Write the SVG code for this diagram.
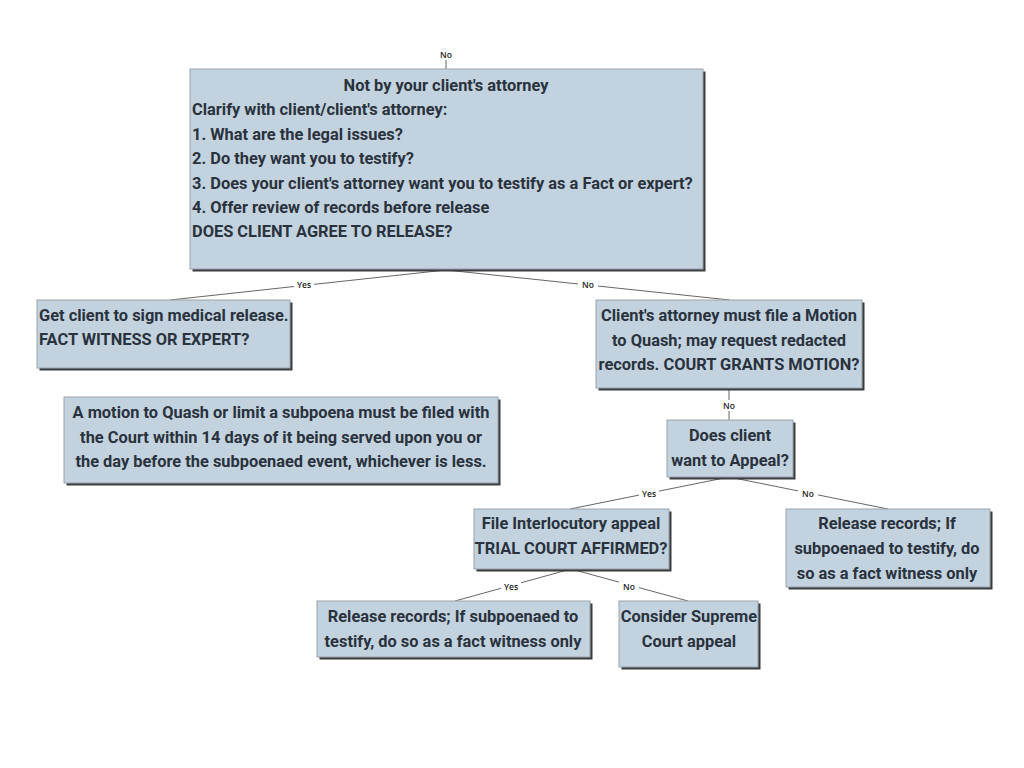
<svg xmlns="http://www.w3.org/2000/svg" width="1024" height="768" viewBox="0 0 1024 768">
<defs>
<style>
.box{fill:#c3d2df;stroke:#9aa3ab;stroke-width:1}
.shd{fill:#3a3d40}
.t{font-family:Roboto,"Open Sans","DejaVu Sans",sans-serif;font-weight:700;font-size:16.4px;fill:#29323d}
.c{text-anchor:middle}
.lbl{font-family:"Open Sans","DejaVu Sans",sans-serif;font-size:8.5px;fill:#222;text-anchor:middle;font-weight:600}
.lb{fill:#ffffff}
.ln{fill:none;stroke:#555;stroke-width:0.9}
</style>
</defs>
<g id="connectors">
<line class="ln" x1="446" y1="60" x2="446" y2="69"/>
<polyline class="ln" points="446,270 170,300"/>
<polyline class="ln" points="446,270 730,300"/>
<line class="ln" x1="729" y1="388" x2="729" y2="420"/>
<polyline class="ln" points="729,477 570,509"/>
<polyline class="ln" points="729,477 888,509"/>
<polyline class="ln" points="571,569 455,601"/>
<polyline class="ln" points="571,569 688,601"/>
<rect class="lb" x="436" y="49" width="20" height="11"/>
<text class="lbl" x="446" y="57.5">No</text>
<rect class="lb" x="294" y="279" width="20" height="11"/>
<text class="lbl" x="304" y="287.5">Yes</text>
<rect class="lb" x="578" y="279" width="20" height="11"/>
<text class="lbl" x="588" y="287.5">No</text>
<rect class="lb" x="719" y="400" width="20" height="11"/>
<text class="lbl" x="729" y="408.5">No</text>
<rect class="lb" x="639" y="488" width="20" height="11"/>
<text class="lbl" x="649" y="496.5">Yes</text>
<rect class="lb" x="798" y="488" width="20" height="11"/>
<text class="lbl" x="808" y="496.5">No</text>
<rect class="lb" x="501" y="581" width="20" height="11"/>
<text class="lbl" x="511" y="589.5">Yes</text>
<rect class="lb" x="619" y="581" width="20" height="11"/>
<text class="lbl" x="629" y="589.5">No</text>
</g>
<g id="n1">
<rect class="shd" x="192.5" y="71.5" width="513" height="200"/>
<rect class="box" x="190" y="69" width="513" height="200"/>
<text class="t c" x="446" y="91">Not by your client's attorney</text>
<text class="t" x="192" y="115">Clarify with client/client's attorney:</text>
<text class="t" x="192" y="139.5">1. What are the legal issues?</text>
<text class="t" x="192" y="164">2. Do they want you to testify?</text>
<text class="t" x="192" y="189">3. Does your client's attorney want you to testify as a Fact or expert?</text>
<text class="t" x="192" y="213">4. Offer review of records before release</text>
<text class="t" x="192" y="237">DOES CLIENT AGREE TO RELEASE?</text>
</g>
<g id="n2">
<rect class="shd" x="39.5" y="302.5" width="253" height="68"/>
<rect class="box" x="37" y="300" width="253" height="68"/>
<text class="t" x="39" y="321">Get client to sign medical release.</text>
<text class="t" x="39" y="345">FACT WITNESS OR EXPERT?</text>
</g>
<g id="n3">
<rect class="shd" x="598.5" y="302.5" width="266" height="88"/>
<rect class="box" x="596" y="300" width="266" height="88"/>
<text class="t c" x="729" y="321">Client's attorney must file a Motion</text>
<text class="t c" x="729" y="346">to Quash; may request redacted</text>
<text class="t c" x="729" y="370">records. COURT GRANTS MOTION?</text>
</g>
<g id="n4">
<rect class="shd" x="66.5" y="399.5" width="434" height="86"/>
<rect class="box" x="64" y="397" width="434" height="86"/>
<text class="t c" x="281" y="418">A motion to Quash or limit a subpoena must be filed with</text>
<text class="t c" x="281" y="443">the Court within 14 days of it being served upon you or</text>
<text class="t c" x="281" y="467">the day before the subpoenaed event, whichever is less.</text>
</g>
<g id="n5">
<rect class="shd" x="669.5" y="422.5" width="126" height="57"/>
<rect class="box" x="667" y="420" width="126" height="57"/>
<text class="t c" x="730" y="441">Does client</text>
<text class="t c" x="730" y="466">want to Appeal?</text>
</g>
<g id="n6">
<rect class="shd" x="476.5" y="511.5" width="195" height="60"/>
<rect class="box" x="474" y="509" width="195" height="60"/>
<text class="t c" x="571" y="529">File Interlocutory appeal</text>
<text class="t c" x="571" y="554">TRIAL COURT AFFIRMED?</text>
</g>
<g id="n7">
<rect class="shd" x="788.5" y="511.5" width="204" height="78"/>
<rect class="box" x="786" y="509" width="204" height="78"/>
<text class="t c" x="887" y="529">Release records; If</text>
<text class="t c" x="887" y="554">subpoenaed to testify, do</text>
<text class="t c" x="887" y="579">so as a fact witness only</text>
</g>
<g id="n8">
<rect class="shd" x="319.5" y="603.5" width="273" height="56"/>
<rect class="box" x="317" y="601" width="273" height="56"/>
<text class="t c" x="453" y="622">Release records; If subpoenaed to</text>
<text class="t c" x="453" y="647">testify, do so as a fact witness only</text>
</g>
<g id="n9">
<rect class="shd" x="621.5" y="603.5" width="139" height="66"/>
<rect class="box" x="619" y="601" width="139" height="66"/>
<text class="t c" x="689" y="622">Consider Supreme</text>
<text class="t c" x="689" y="647">Court appeal</text>
</g>
</svg>
